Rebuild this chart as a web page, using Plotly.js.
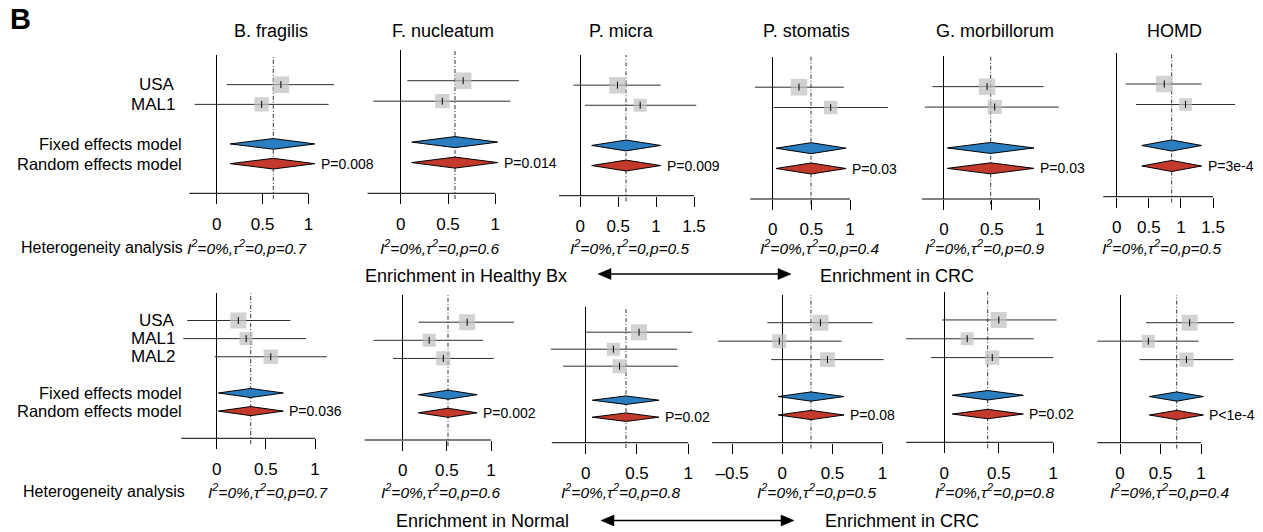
<!DOCTYPE html>
<html><head><meta charset="utf-8">
<script src="https://cdn.plot.ly/plotly-3.0.1.min.js"></script>
<style>html,body{margin:0;padding:0;background:#fff}#chart{width:1263px;height:532px}</style>
</head><body><div id="chart"></div>
<script>
// ================= DATA =================
const taxa = ['B. fragilis','F. nucleatum','P. micra','P. stomatis','G. morbillorum','HOMD'];
const studiesTop = ['USA','MAL1'];
const studiesBottom = ['USA','MAL1','MAL2'];
const modelLabels = ['Fixed effects model','Random effects model'];

// Top row: Healthy Bx vs CRC (effect, 95% CI, weight)
const topEst = [[0.70,0.49],[0.66,0.44],[0.49,0.79],[0.34,0.75],[0.45,0.53],[0.74,1.07]];
const topLo  = [[0.11,-0.24],[0.07,-0.29],[-0.09,0.06],[-0.23,0.01],[-0.12,-0.20],[0.14,0.30]];
const topHi  = [[1.28,1.22],[1.25,1.16],[1.06,1.53],[0.92,1.49],[1.04,1.20],[1.32,1.84]];
const topWeight = [[57,43],[57,43],[61,39],[60,40],[58,42],[63,37]];
const topSummary   = [0.617,0.574,0.603,0.496,0.488,0.855];
const topSummaryLo = [0.147,0.116,0.150,0.043,0.035,0.390];
const topSummaryHi = [1.070,1.025,1.060,0.950,0.940,1.320];
const topP = ['P=0.008','P=0.014','P=0.009','P=0.03','P=0.03','P=3e-4'];
const topHetP = ['0.7','0.6','0.5','0.4','0.9','0.5'];
const topTicks = [[0,0.5,1],[0,0.5,1],[0,0.5,1,1.5],[0,0.5,1],[0,0.5,1],[0,0.5,1,1.5]];

// Bottom row: Normal vs CRC
const botEst = [[0.22,0.30,0.55],[0.73,0.30,0.46],[0.52,0.27,0.33],[0.38,-0.03,0.45],[0.50,0.21,0.44],[0.86,0.35,0.82]];
const botLo  = [[-0.30,-0.34,-0.02],[0.18,-0.33,-0.11],[0.00,-0.34,-0.22],[-0.15,-0.64,-0.11],[-0.02,-0.35,-0.12],[0.32,-0.28,0.24]];
const botHi  = [[0.75,0.91,1.12],[1.26,0.91,1.03],[1.04,0.89,0.90],[0.90,0.59,1.01],[1.03,0.82,1.00],[1.41,0.97,1.40]];
const botWeight = [[40,28,32],[41,27,32],[41,27,32],[38,29,33],[41,27,32],[41,27,32]];
const botSummary   = [0.346,0.513,0.393,0.286,0.398,0.700];
const botSummaryLo = [0.017,0.177,0.064,-0.040,0.073,0.362];
const botSummaryHi = [0.678,0.843,0.714,0.615,0.725,1.030];
const botP = ['P=0.036','P=0.002','P=0.02','P=0.08','P=0.02','P&lt;1e-4'];
const botHetP = ['0.7','0.6','0.8','0.5','0.8','0.4'];
const botTicks = [[0,0.5,1],[0,0.5,1],[0,0.5,1],[-0.5,0,0.5,1],[0,0.5,1],[0,0.5,1]];

const hetI2 = '0%';
const hetTau2 = '0';

// ================= LAYOUT =================
const W = 1263, H = 532;
const FONT = 'Liberation Sans, Arial, Helvetica, sans-serif';
const px = x => x / W, py = y => 1 - y / H;

const topGeom = [
  {p0:216.7,u:91.7,top:55,bot:193.3,xlim:[-0.30,1]},
  {p0:400.7,u:94.6,top:50,bot:193.3,xlim:[-0.35,1]},
  {p0:580.3,u:75.8,top:55,bot:195.7,xlim:[-0.28,1.5]},
  {p0:772.7,u:77.3,top:56.7,bot:199,xlim:[-0.29,1]},
  {p0:944,u:95.7,top:56,bot:199,xlim:[-0.23,1]},
  {p0:1116.7,u:64.3,top:53.3,bot:196.7,xlim:[-0.21,1.5]}
];
const botGeom = [
  {p0:216.7,u:98.3,top:293.3,bot:438.3,xlim:[-0.36,1]},
  {p0:402.7,u:88.3,top:295,bot:440,xlim:[-0.43,1]},
  {p0:585.7,u:102.6,top:306.7,bot:442.7,xlim:[-0.33,1]},
  {p0:782.3,u:100.3,top:295,bot:442.7,xlim:[-0.70,1]},
  {p0:944.3,u:109,top:291.7,bot:442.3,xlim:[-0.35,1]},
  {p0:1120,u:81,top:295,bot:442.7,xlim:[-0.28,1]}
];
const titleX = [270.5,443,621.7,806,994.5,1174];
const hetXTop = [247,440,630,820,984.7,1162];
const hetXBot = [268,441,621,817,994.8,1169.7];

const data = [], shapes = [], annotations = [];
const layout = {
  width:W, height:H, margin:{l:0,r:0,t:0,b:0}, showlegend:false,
  paper_bgcolor:'#fff', plot_bgcolor:'rgba(0,0,0,0)',
  font:{family:FONT, color:'#000'}, shapes, annotations, hovermode:false
};

function fmtTick(v){ return v < 0 ? '\u2013' + Math.abs(v) : String(v); }

function panel(idx, g, ticks, studies, est, lo, hi, w, s, sLo, sHi, pLabel, maxSize, dh) {
  const sfx = idx === 1 ? '' : String(idx);
  const xr = 'x' + sfx, yr = 'y' + sfx;
  const n = studies.length;
  const rows = studies.map((_, i) => i);
  const fixedRow = n + 1, randRow = n + 2;
  const mn = Math.min(g.xlim[0], ...lo, sLo) - 0.03;
  const mx = Math.max(g.xlim[1], ...hi, sHi) + 0.03;
  layout['xaxis' + sfx] = {
    domain:[px(g.p0 + mn * g.u), px(g.p0 + mx * g.u)], range:[mn, mx], anchor:yr,
    tickvals:ticks, ticktext:ticks.map(fmtTick), ticks:'outside', ticklen:10, tickwidth:1, tickcolor:'#000',
    tickfont:{size:17, family:FONT, color:'#000'}, ticklabelstandoff:5,
    showline:false, showgrid:false, zeroline:true, zerolinecolor:'#000', zerolinewidth:1, fixedrange:true
  };
  layout['yaxis' + sfx] = {domain:[py(g.bot), py(g.top)], range:[n + 3.5, -1.5], visible:false, anchor:xr, fixedrange:true};

  const cx = [], cy = [];
  rows.forEach(i => { cx.push(lo[i], hi[i], null); cy.push(i, i, null); });
  data.push({type:'scatter', mode:'lines', x:cx, y:cy, xaxis:xr, yaxis:yr, line:{color:'#2e2e2e', width:1}});
  const wmax = Math.max(...w);
  data.push({type:'scatter', mode:'markers', x:est, y:rows, xaxis:xr, yaxis:yr,
    marker:{symbol:'square', size:w.map(v => maxSize * Math.sqrt(v / wmax)), color:'#bfbfbf', line:{width:0}}});
  data.push({type:'scatter', mode:'markers', x:est, y:rows, xaxis:xr, yaxis:yr,
    marker:{symbol:'line-ns-open', size:5, color:'#000', line:{color:'#000', width:1}}});
  [[fixedRow, '#2a7dbf'], [randRow, '#c33a2c']].forEach(([r, c]) => {
    data.push({type:'scatter', mode:'lines', x:[sLo, s, sHi, s, sLo], y:[r, r - dh, r, r + dh, r],
      fill:'toself', fillcolor:c, line:{color:'#000', width:1}, xaxis:xr, yaxis:yr});
  });
  shapes.push({type:'line', xref:xr, yref:yr + ' domain', x0:s, x1:s, y0:-0.04, y1:1,
    line:{color:'#333', width:1, dash:'4px,2px,1px,2px'}, layer:'below'});
  shapes.push({type:'line', xref:xr, yref:yr + ' domain', x0:g.xlim[0], x1:g.xlim[1], y0:0, y1:0,
    line:{color:'#000', width:1}});
  annotations.push({xref:xr, yref:yr, x:sHi, y:randRow, text:pLabel, xanchor:'left', yanchor:'middle',
    xshift:4, showarrow:false, font:{size:14}});
}

for (let k = 0; k < 6; k++) {
  panel(k + 1, topGeom[k], topTicks[k], studiesTop, topEst[k], topLo[k], topHi[k], topWeight[k],
    topSummary[k], topSummaryLo[k], topSummaryHi[k], topP[k], 16.5, 0.27);
  panel(k + 7, botGeom[k], botTicks[k], studiesBottom, botEst[k], botLo[k], botHi[k], botWeight[k],
    botSummary[k], botSummaryLo[k], botSummaryHi[k], botP[k], 16, 0.25);
  annotations.push({xref:'paper', yref:'paper', x:px(titleX[k]), y:py(31), text:taxa[k],
    xanchor:'center', yanchor:'middle', showarrow:false, font:{size:18}});
  annotations.push({xref:'paper', yref:'paper', x:px(hetXTop[k]), y:py(247),
    text:'<i>I<sup>2</sup>=' + hetI2 + ',\u03c4<sup>2</sup>=' + hetTau2 + ',p=' + topHetP[k] + '</i>',
    xanchor:'center', yanchor:'middle', showarrow:false, font:{size:15.5}});
  annotations.push({xref:'paper', yref:'paper', x:px(hetXBot[k]), y:py(491),
    text:'<i>I<sup>2</sup>=' + hetI2 + ',\u03c4<sup>2</sup>=' + hetTau2 + ',p=' + botHetP[k] + '</i>',
    xanchor:'center', yanchor:'middle', showarrow:false, font:{size:15.5}});
}

// study / model labels
studiesTop.forEach((s, i) => annotations.push({xref:'paper', yref:'y', x:px(177), y:i, text:s,
  xanchor:'right', yanchor:'middle', showarrow:false, font:{size:17}}));
studiesBottom.forEach((s, i) => annotations.push({xref:'paper', yref:'y7', x:px(177), y:i, text:s,
  xanchor:'right', yanchor:'middle', showarrow:false, font:{size:17}}));
modelLabels.forEach((s, i) => {
  annotations.push({xref:'paper', yref:'y', x:px(184), y:studiesTop.length + 1 + i, text:s,
    xanchor:'right', yanchor:'middle', showarrow:false, font:{size:16.5}});
  annotations.push({xref:'paper', yref:'y7', x:px(184), y:studiesBottom.length + 1 + i, text:s,
    xanchor:'right', yanchor:'middle', showarrow:false, font:{size:16.5}});
});

// heterogeneity captions
annotations.push({xref:'paper', yref:'paper', x:px(19), y:py(247), text:'Heterogeneity analysis',
  xanchor:'left', yanchor:'middle', showarrow:false, font:{size:16}});
annotations.push({xref:'paper', yref:'paper', x:px(21), y:py(491), text:'Heterogeneity analysis',
  xanchor:'left', yanchor:'middle', showarrow:false, font:{size:16}});

// panel letter
annotations.push({xref:'paper', yref:'paper', x:px(8), y:py(19), text:'<b>B</b>',
  xanchor:'left', yanchor:'middle', showarrow:false, font:{size:29}});

// direction labels with double-headed arrows
function dirRow(leftText, leftEnd, rightText, rightStart, yText, xa, xb, yArr) {
  annotations.push({xref:'paper', yref:'paper', x:px(leftEnd), y:py(yText), text:leftText,
    xanchor:'right', yanchor:'middle', showarrow:false, font:{size:18}});
  annotations.push({xref:'paper', yref:'paper', x:px(rightStart), y:py(yText), text:rightText,
    xanchor:'left', yanchor:'middle', showarrow:false, font:{size:18}});
  const hl = 13, hh = 5.5;
  shapes.push({type:'line', xref:'paper', yref:'paper', x0:px(xa + hl - 1), x1:px(xb - hl + 1),
    y0:py(yArr), y1:py(yArr), line:{color:'#000', width:1.5}});
  shapes.push({type:'path', xref:'paper', yref:'paper',
    path:`M${px(xa)},${py(yArr)} L${px(xa + hl)},${py(yArr - hh)} L${px(xa + hl)},${py(yArr + hh)} Z`,
    fillcolor:'#000', line:{color:'#000', width:0.5}});
  shapes.push({type:'path', xref:'paper', yref:'paper',
    path:`M${px(xb)},${py(yArr)} L${px(xb - hl)},${py(yArr - hh)} L${px(xb - hl)},${py(yArr + hh)} Z`,
    fillcolor:'#000', line:{color:'#000', width:0.5}});
}
dirRow('Enrichment in Healthy Bx', 569, 'Enrichment in CRC', 818, 276, 598, 791, 274);
dirRow('Enrichment in Normal', 571, 'Enrichment in CRC', 823, 521, 601, 794, 520.5);

Plotly.newPlot('chart', data, layout, {displayModeBar:false, staticPlot:true});
</script>
</body></html>
